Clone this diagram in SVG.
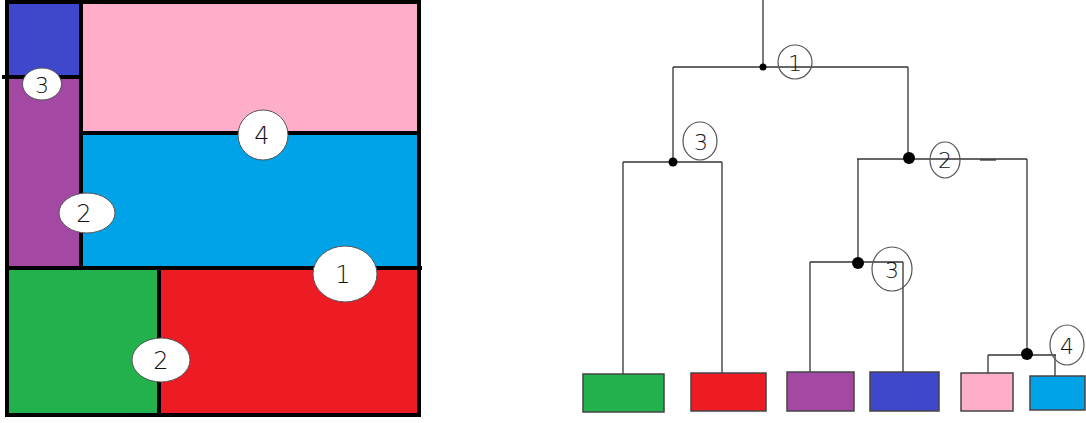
<svg xmlns="http://www.w3.org/2000/svg" width="1086" height="423" viewBox="0 0 1086 423">
<style>
.wall{stroke:#000;stroke-width:4;fill:none;stroke-linecap:square}
.lbl{fill:#fff;stroke:#555;stroke-width:1}
.t{font-family:"DejaVu Sans","Liberation Sans",sans-serif;font-weight:200;fill:#111;text-anchor:middle;dominant-baseline:central}
.edge{stroke:#333;stroke-width:1.3;fill:none}
.dot{fill:#000}
.leaf{stroke:#444;stroke-width:1.5}
.ring{fill:none;stroke:#555;stroke-width:1.2}
</style>
<rect width="1086" height="423" fill="#fff"/>
<g id="plan">
  <rect x="8" y="2" width="73" height="75" fill="#3f48cc"/>
  <rect x="8" y="77" width="73" height="190" fill="#a349a4"/>
  <rect x="81" y="2" width="338" height="131" fill="#ffaec9"/>
  <rect x="81" y="133" width="338" height="134" fill="#00a2e8"/>
  <rect x="8" y="267" width="151" height="148" fill="#22b14c"/>
  <rect x="159" y="267" width="260" height="148" fill="#ed1c24"/>
  <rect class="wall" x="7" y="2" width="412" height="413"/>
  <line class="wall" x1="81" y1="2" x2="81" y2="267"/>
  <line class="wall" x1="4" y1="77" x2="81" y2="77"/>
  <line class="wall" x1="81" y1="133" x2="419" y2="133"/>
  <line class="wall" x1="7" y1="268" x2="420" y2="268"/>
  <line class="wall" x1="159" y1="268" x2="159" y2="415"/>
  <g id="plan-cut3"><ellipse class="lbl" cx="42" cy="84" rx="19.5" ry="16"/><text class="t" x="42" y="85" font-size="22">3</text></g>
  <g id="plan-cut4"><ellipse class="lbl" cx="263" cy="135" rx="25" ry="25"/><text class="t" x="262" y="136" font-size="24">4</text></g>
  <g id="plan-cut2a"><ellipse class="lbl" cx="87" cy="213" rx="28" ry="20"/><text class="t" x="84" y="214" font-size="24">2</text></g>
  <g id="plan-cut1"><ellipse class="lbl" cx="345" cy="274" rx="32" ry="28"/><text class="t" x="343" y="275" font-size="24">1</text></g>
  <g id="plan-cut2b"><ellipse class="lbl" cx="161" cy="360" rx="29" ry="22"/><text class="t" x="161" y="361" font-size="24">2</text></g>
</g>
<g id="connectors">
  <line class="edge" x1="763" y1="0" x2="763" y2="67"/>
  <line class="edge" x1="673" y1="67" x2="908" y2="67"/>
  <line class="edge" x1="673" y1="67" x2="673" y2="162"/>
  <line class="edge" x1="908" y1="67" x2="908" y2="159"/>
  <line class="edge" x1="623" y1="162" x2="722" y2="162"/>
  <line class="edge" x1="623" y1="162" x2="623" y2="374"/>
  <line class="edge" x1="722" y1="162" x2="722" y2="373"/>
  <line class="edge" x1="857" y1="159" x2="1027" y2="159"/>
  <line class="edge" x1="980" y1="160" x2="996" y2="160" stroke-width="2"/>
  <line class="edge" x1="858" y1="159" x2="858" y2="262"/>
  <line class="edge" x1="810" y1="262" x2="903" y2="262"/>
  <line class="edge" x1="810" y1="262" x2="810" y2="372"/>
  <line class="edge" x1="903" y1="262" x2="903" y2="372"/>
  <line class="edge" x1="1027" y1="159" x2="1027" y2="355"/>
  <line class="edge" x1="988" y1="355" x2="1056" y2="355"/>
  <line class="edge" x1="988" y1="355" x2="988" y2="373"/>
  <line class="edge" x1="1055" y1="355" x2="1055" y2="376"/>
</g>
<g id="split1"><circle class="dot" cx="763" cy="67" r="3.5"/><ellipse class="ring" cx="795" cy="62" rx="17" ry="17"/><text class="t" x="795" y="63" font-size="22">1</text></g>
<g id="split3a"><circle class="dot" cx="673" cy="162" r="4.5"/><ellipse class="ring" cx="700" cy="141" rx="17" ry="19"/><text class="t" x="701" y="142" font-size="22">3</text></g>
<g id="split2"><circle class="dot" cx="909" cy="158" r="6"/><ellipse class="ring" cx="945" cy="160" rx="15" ry="18"/><text class="t" x="945" y="160" font-size="22">2</text></g>
<g id="split3b"><circle class="dot" cx="858" cy="263" r="6"/><ellipse class="ring" cx="892" cy="269" rx="20" ry="22"/><text class="t" x="892" y="270" font-size="22">3</text></g>
<g id="split4"><circle class="dot" cx="1027" cy="354" r="6"/><ellipse class="ring" cx="1067" cy="345" rx="17" ry="20"/><text class="t" x="1067" y="346" font-size="22">4</text></g>
<g id="leaf-green"><rect class="leaf" x="583" y="374" width="81" height="38" fill="#22b14c"/></g>
<g id="leaf-red"><rect class="leaf" x="691" y="373" width="75" height="38" fill="#ed1c24"/></g>
<g id="leaf-purple"><rect class="leaf" x="787" y="372" width="67" height="39" fill="#a349a4"/></g>
<g id="leaf-blue"><rect class="leaf" x="870" y="372" width="69" height="39" fill="#3f48cc"/></g>
<g id="leaf-pink"><rect class="leaf" x="961" y="373" width="52" height="38" fill="#ffaec9"/></g>
<g id="leaf-cyan"><rect class="leaf" x="1030" y="376" width="55" height="34" fill="#00a2e8"/></g>
</svg>
